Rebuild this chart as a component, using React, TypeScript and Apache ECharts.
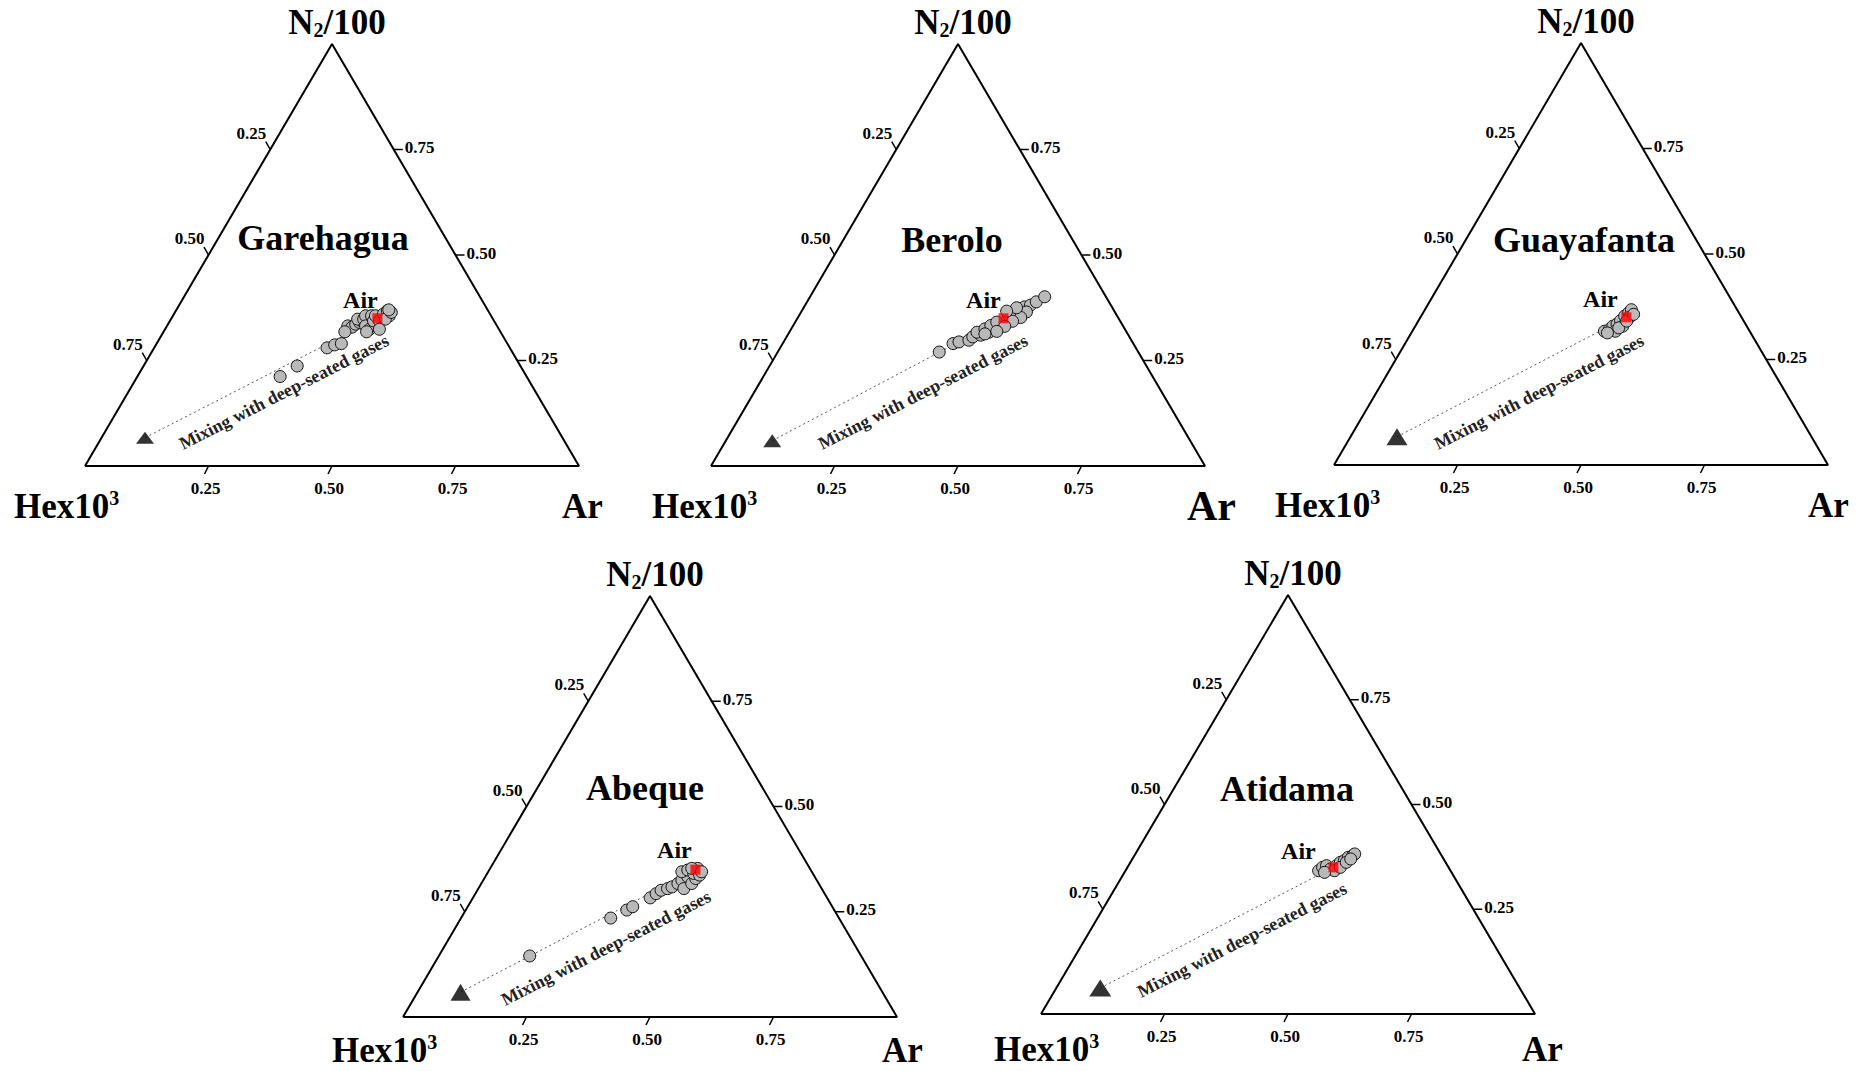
import React, { useEffect, useRef } from "react";
import * as echarts from "echarts";

// ---------- data (compositions as [N2/100, Ar] fractions; Hex10^3 = 1 - N2 - Ar) ----------
const PANEL_NAMES = ["Garehagua", "Berolo", "Guayafanta", "Abeque", "Atidama"];
const TICK_VALUES = [0.25, 0.5, 0.75];
const TICK_LABELS = ["0.25", "0.50", "0.75"];
const AIR_LABEL = "Air";
const MIXING_LABEL = "Mixing with deep-seated gases";

const AIR = [0.35, 0.417];
const DEEP_ENDMEMBERS = [
  [0.067, 0.088],
  [0.06, 0.094],
  [0.067, 0.094],
  [0.059, 0.087],
  [0.062, 0.089],
];

const GAREHAGUA_SAMPLES = [
  [0.212, 0.289], [0.237, 0.311], [0.28, 0.35], [0.287, 0.362], [0.29, 0.374],
  [0.332, 0.366], [0.329, 0.376], [0.336, 0.38], [0.34, 0.386], [0.344, 0.388],
  [0.348, 0.378], [0.348, 0.39], [0.352, 0.396], [0.356, 0.39], [0.356, 0.402],
  [0.332, 0.402], [0.324, 0.414], [0.332, 0.422], [0.344, 0.412], [0.356, 0.41],
  [0.344, 0.424], [0.36, 0.424], [0.368, 0.428], [0.356, 0.438], [0.348, 0.434],
  [0.324, 0.434], [0.364, 0.438], [0.318, 0.367], [0.318, 0.411], [0.37, 0.43],
];
const BEROLO_SAMPLES = [
  [0.27, 0.327], [0.29, 0.345], [0.294, 0.355], [0.298, 0.373], [0.306, 0.377],
  [0.31, 0.391], [0.317, 0.404], [0.325, 0.412], [0.317, 0.38], [0.325, 0.392],
  [0.333, 0.4], [0.341, 0.408], [0.357, 0.424], [0.365, 0.432], [0.373, 0.436],
  [0.377, 0.446], [0.381, 0.456], [0.389, 0.464], [0.401, 0.475], [0.365, 0.456],
  [0.352, 0.451], [0.343, 0.439], [0.331, 0.429], [0.319, 0.419], [0.313, 0.398],
  [0.375, 0.431], [0.367, 0.415],
];
const GUAYAFANTA_SAMPLES = [
  [0.317, 0.389], [0.321, 0.397], [0.329, 0.4], [0.334, 0.406], [0.342, 0.409],
  [0.353, 0.412], [0.361, 0.416], [0.368, 0.418], [0.35, 0.423], [0.329, 0.42],
  [0.317, 0.411], [0.325, 0.414], [0.341, 0.422], [0.313, 0.397], [0.357, 0.428],
];
const ABEQUE_SAMPLES = [
  [0.145, 0.184], [0.235, 0.303], [0.254, 0.326], [0.262, 0.334], [0.283, 0.359],
  [0.293, 0.366], [0.301, 0.372], [0.305, 0.383], [0.309, 0.39], [0.317, 0.398],
  [0.325, 0.402], [0.333, 0.41], [0.305, 0.416], [0.317, 0.426], [0.329, 0.428],
  [0.345, 0.392], [0.349, 0.402], [0.341, 0.418], [0.353, 0.42], [0.353, 0.408],
  [0.337, 0.432], [0.345, 0.432],
];
const ATIDAMA_SAMPLES = [
  [0.342, 0.391], [0.35, 0.395], [0.354, 0.401], [0.346, 0.413], [0.354, 0.421],
  [0.362, 0.425], [0.366, 0.431], [0.374, 0.435], [0.378, 0.442], [0.382, 0.444],
  [0.342, 0.423], [0.35, 0.431], [0.338, 0.405], [0.362, 0.437], [0.37, 0.442],
];

const SAMPLES = [
  GAREHAGUA_SAMPLES,
  BEROLO_SAMPLES,
  GUAYAFANTA_SAMPLES,
  ABEQUE_SAMPLES,
  ATIDAMA_SAMPLES,
];

// corners of the diagram as compositions [N2, Ar]
const CORNER_HEX = [0, 0];
const CORNER_AR = [0, 1];
const CORNER_N2 = [1, 0];

// ---------- layout (pixels) ----------
const LAYOUT = [
  { left: 85, top: 44, width: 494, height: 422, titleDx: -9, titleDy: 194, airDx: -17, airDy: -18, mixDx: 199, mixDy: -74, hexDx: -71, arDx: -17, arFont: 35, cornerDy: 40, tri: [18, 12] },
  { left: 711, top: 44, width: 494, height: 422, titleDx: -6, titleDy: 196, airDx: -20, airDy: -18, mixDx: 212, mixDy: -74, hexDx: -59, arDx: -18, arFont: 42, cornerDy: 40, tri: [18, 13] },
  { left: 1334, top: 43, width: 494, height: 422, titleDx: 3, titleDy: 197, airDx: -26, airDy: -18, mixDx: 205, mixDy: -73, hexDx: -59, arDx: -20, arFont: 35, cornerDy: 40, tri: [21, 17] },
  { left: 403, top: 596, width: 494, height: 421, titleDx: -5, titleDy: 192, airDx: -21, airDy: -20, mixDx: 203, mixDy: -69, hexDx: -71, arDx: -15, arFont: 35, cornerDy: 33, tri: [20, 17] },
  { left: 1041, top: 595, width: 494, height: 419, titleDx: -1, titleDy: 194, airDx: -35, airDy: -16, mixDx: 201, mixDy: -74, hexDx: -47, arDx: -13, arFont: 35, cornerDy: 35, tri: [22, 17] },
];

const FONT = '"Liberation Serif", "Times New Roman", serif';

function toXY(c: number[]) {
  return [c[1] + c[0] / 2, c[0]];
}

export default function App() {
  const ref = useRef<HTMLDivElement>(null);

  useEffect(() => {
    if (!ref.current) return;
    const chart = echarts.init(ref.current, undefined, { renderer: "svg" });

    const grid: any[] = [];
    const xAxis: any[] = [];
    const yAxis: any[] = [];
    const series: any[] = [];

    LAYOUT.forEach((L, i) => {
      grid.push({ left: L.left, top: L.top, width: L.width, height: L.height, containLabel: false });
      xAxis.push({ type: "value", gridIndex: i, min: 0, max: 1, show: false });
      yAxis.push({ type: "value", gridIndex: i, min: 0, max: 1, show: false });

      series.push({
        type: "line",
        xAxisIndex: i,
        yAxisIndex: i,
        data: [CORNER_HEX, CORNER_AR, CORNER_N2, CORNER_HEX].map(toXY),
        symbol: "none",
        clip: false,
        lineStyle: { color: "#000", width: 2 },
        z: 2,
        silent: true,
      });
      series.push({
        type: "line",
        xAxisIndex: i,
        yAxisIndex: i,
        data: [DEEP_ENDMEMBERS[i], AIR].map(toXY),
        symbol: "none",
        clip: false,
        lineStyle: { color: "#555", width: 1, type: [2, 3] },
        z: 3,
        silent: true,
      });
      series.push({
        type: "scatter",
        xAxisIndex: i,
        yAxisIndex: i,
        data: SAMPLES[i].map(toXY),
        symbol: "circle",
        symbolSize: 12,
        itemStyle: { color: "#b9b9b9", borderColor: "#111", borderWidth: 1, opacity: 1 },
        z: 4,
        silent: true,
      });
      series.push({
        type: "scatter",
        xAxisIndex: i,
        yAxisIndex: i,
        data: [toXY(DEEP_ENDMEMBERS[i])],
        symbol: "triangle",
        symbolSize: L.tri,
        itemStyle: { color: "#000" },
        z: 5,
        silent: true,
      });
      series.push({
        type: "scatter",
        xAxisIndex: i,
        yAxisIndex: i,
        data: [toXY(AIR)],
        symbol: "rect",
        symbolSize: 10,
        itemStyle: { color: "#ff0000" },
        z: 6,
        silent: true,
      });
    });

    chart.setOption({
      animation: false,
      backgroundColor: "#ffffff",
      grid,
      xAxis,
      yAxis,
      series,
    });

    const graphic: any[] = [];
    const txt = (x: number, y: number, text: string, size: number, align: string, va: string, extra: any = {}) => ({
      type: "text",
      x,
      y,
      silent: true,
      z: 10,
      ...extra,
      style: {
        text,
        fill: "#000",
        fontSize: size,
        fontWeight: "bold",
        fontFamily: FONT,
        align,
        verticalAlign: va,
        ...(extra.style || {}),
      },
    });
    const tick = (x1: number, y1: number, x2: number, y2: number) => ({
      type: "line",
      silent: true,
      z: 10,
      shape: { x1, y1, x2, y2 },
      style: { stroke: "#000", lineWidth: 1.5 },
    });

    LAYOUT.forEach((L, i) => {
      const px = (c: number[]) => chart.convertToPixel({ gridIndex: i } as any, toXY(c)) as number[];
      const apex = px(CORNER_N2);
      const bl = px(CORNER_HEX);
      const br = px(CORNER_AR);

      TICK_VALUES.forEach((v, k) => {
        // bottom (Ar)
        const pb = px([0, v]);
        graphic.push(tick(pb[0], pb[1], pb[0] - 4, pb[1] + 8));
        graphic.push(txt(pb[0] - 3, pb[1] + 14, TICK_LABELS[k], 17, "center", "top"));
        // left (Hex)
        const pl = px([1 - v, 0]);
        graphic.push(tick(pl[0], pl[1], pl[0] - 4.5, pl[1] - 7.8));
        graphic.push(txt(pl[0] - 4, pl[1] - 8, TICK_LABELS[k], 17, "right", "bottom"));
        // right (N2)
        const pr = px([v, 1 - v]);
        graphic.push(tick(pr[0], pr[1], pr[0] + 9, pr[1]));
        graphic.push(txt(pr[0] + 11, pr[1] - 2, TICK_LABELS[k], 17, "left", "middle"));
      });

      // corner labels
      graphic.push({
        type: "text",
        x: apex[0] + 5,
        y: apex[1] - 4,
        silent: true,
        z: 10,
        style: {
          text: "{m|N}{s|2}{m|/100}",
          align: "center",
          verticalAlign: "bottom",
          rich: {
            m: { fontSize: 35, fontWeight: "bold", fontFamily: FONT, fill: "#000", lineHeight: 36 },
            s: { fontSize: 20, fontWeight: "bold", fontFamily: FONT, fill: "#000", lineHeight: 20, verticalAlign: "bottom" },
          },
        },
      });
      graphic.push({
        type: "text",
        x: bl[0] + L.hexDx,
        y: bl[1] + L.cornerDy,
        silent: true,
        z: 10,
        style: {
          text: "{m|Hex10}{p|3}",
          align: "left",
          verticalAlign: "middle",
          rich: {
            m: { fontSize: 35, fontWeight: "bold", fontFamily: FONT, fill: "#000", lineHeight: 36 },
            p: { fontSize: 20, fontWeight: "bold", fontFamily: FONT, fill: "#000", lineHeight: 20, verticalAlign: "top" },
          },
        },
      });
      graphic.push(txt(br[0] + L.arDx, br[1] + L.cornerDy, "Ar", L.arFont, "left", "middle"));

      // panel title
      graphic.push(txt(apex[0] + L.titleDx, apex[1] + L.titleDy, PANEL_NAMES[i], 36, "center", "middle"));

      // Air label
      const air = px(AIR);
      graphic.push(txt(air[0] + L.airDx, air[1] + L.airDy, AIR_LABEL, 24, "center", "middle"));

      // mixing label
      graphic.push(
        txt(bl[0] + L.mixDx, bl[1] + L.mixDy, MIXING_LABEL, 18, "center", "middle", {
          rotation: (27 * Math.PI) / 180,
          style: { fill: "#222" },
        })
      );
    });

    chart.setOption({ graphic });

    return () => {
      chart.dispose();
    };
  }, []);

  return (
    <div
      ref={ref}
      style={{ position: "absolute", left: 0, top: 0, width: 1865, height: 1071, background: "#fff" }}
    />
  );
}
